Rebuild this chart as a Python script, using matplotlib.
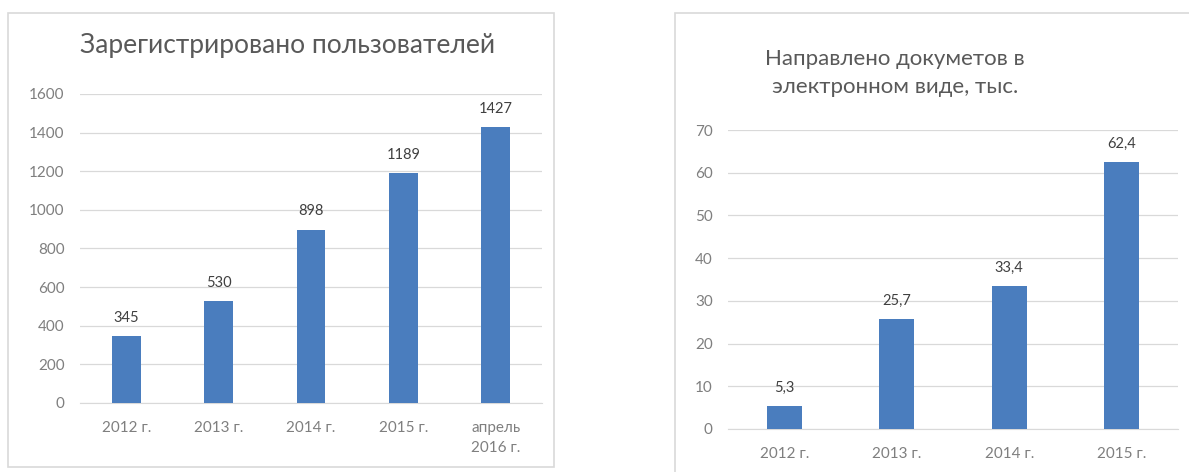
import matplotlib.pyplot as plt
from matplotlib.patches import Rectangle

# data
users_years = ["2012 г.", "2013 г.", "2014 г.", "2015 г.", "апрель\n2016 г."]
users = [345, 530, 898, 1189, 1427]
users_ticks = [0, 200, 400, 600, 800, 1000, 1200, 1400, 1600]

docs_years = ["2012 г.", "2013 г.", "2014 г.", "2015 г."]
docs = [5.3, 25.7, 33.4, 62.4]
docs_ticks = [0, 10, 20, 30, 40, 50, 60, 70]

plt.rcParams['font.family'] = ['Lato', 'DejaVu Sans']

W, H = 1189, 472
bar_color = "#4a7dbe"
grid_color = "#d9d9d9"
tick_color = "#7f7f7f"
label_color = "#404040"

fig = plt.figure(figsize=(W / 100, H / 100), dpi=100)


def px_box(x0, y0, x1, y1):
    # pixel box (top-left origin) -> figure fraction [l, b, w, h]
    return [x0 / W, (H - y1) / H, (x1 - x0) / W, (y1 - y0) / H]


# chart frames
for (x0, y0, x1, y1) in [(8, 13, 554, 467), (675, 13, 1200, 480)]:
    l, b, w, h = px_box(x0, y0, x1, y1)
    fig.patches.append(Rectangle((l, b), w, h, transform=fig.transFigure,
                                 fill=False, edgecolor=grid_color, lw=1.2))


def draw(ax, cats, vals, ticks, fmt):
    x = range(len(cats))
    ax.bar(x, vals, width=0.31, color=bar_color, zorder=3)
    ax.set_xlim(-0.5, len(cats) - 0.5)
    ax.set_ylim(ticks[0], ticks[-1])
    ax.set_yticks(ticks)
    ax.set_xticks(list(x))
    ax.set_xticklabels(cats, linespacing=1.5)
    ax.grid(axis="y", color=grid_color, lw=0.9, zorder=0)
    for s in ["top", "right", "left"]:
        ax.spines[s].set_visible(False)
    ax.spines["bottom"].set_color(grid_color)
    ax.tick_params(length=0, colors=tick_color, labelsize=11)
    ax.tick_params(axis="x", pad=13)
    ax.tick_params(axis="y", pad=11)
    for i, v in enumerate(vals):
        ax.annotate(fmt(v), (i, v), xytext=(0, 8), textcoords="offset points",
                    ha="center", va="bottom", fontsize=10.5, color=label_color)


ax1 = fig.add_axes(px_box(80, 94, 542, 403))
draw(ax1, users_years, users, users_ticks, lambda v: str(v))

ax2 = fig.add_axes(px_box(728, 130, 1178, 429))
draw(ax2, docs_years, docs, docs_ticks, lambda v: f"{v:.1f}".replace(".", ","))

fig.text(288 / W, 1 - 46 / H, "Зарегистрировано пользователей", ha="center", va="center",
         fontsize=19, color="#595959")
fig.text(895 / W, 1 - 73 / H, "Направлено докуметов в\nэлектронном виде, тыс.", ha="center",
         va="center", fontsize=16, color="#595959", linespacing=1.5)

fig.savefig("out.png", dpi=100)
